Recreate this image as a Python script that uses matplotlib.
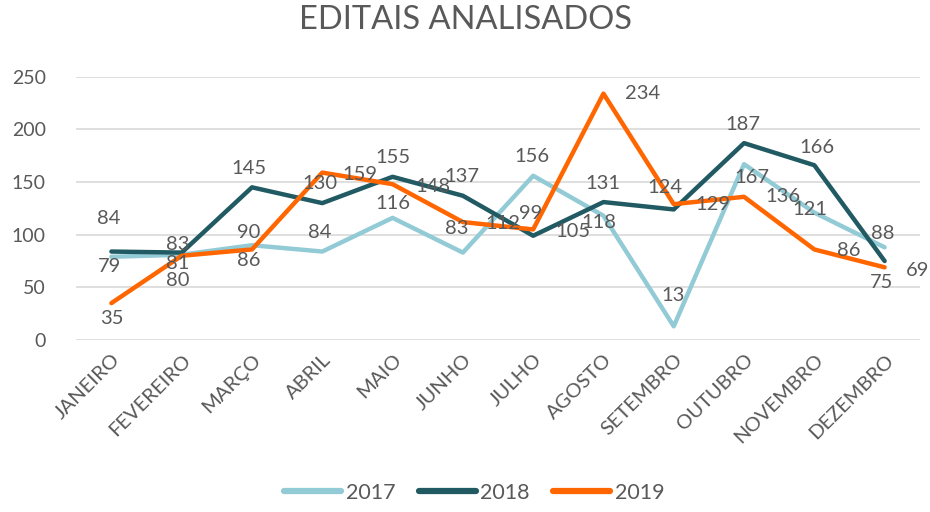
import matplotlib
matplotlib.use("Agg")
import matplotlib.pyplot as plt

plt.rcParams['font.family'] = ['Lato', 'DejaVu Sans']

# data
meses = ["JANEIRO", "FEVEREIRO", "MARÇO", "ABRIL", "MAIO", "JUNHO",
         "JULHO", "AGOSTO", "SETEMBRO", "OUTUBRO", "NOVEMBRO", "DEZEMBRO"]
v2017 = [79, 81, 90, 84, 116, 83, 156, 118, 13, 167, 121, 88]
v2018 = [84, 83, 145, 130, 155, 137, 99, 131, 124, 187, 166, 75]
v2019 = [35, 80, 86, 159, 148, 112, 105, 234, 129, 136, 86, 69]
anos = ["2017", "2018", "2019"]

cores = ["#92cbd6", "#215a62", "#ff6600"]
grey = "#595959"

# label offsets in pixels (dx, dy down) - Excel had them dragged around
off2017 = [(-2, 10), (-4, 9), (-3, -13), (-3, -19), (0, -14), (-6, -24),
           (-1, -19), (-5, 7), (-1, -31), (8, 13), (-4, -3), (-2, -14)]
off2018 = [(-3, -33), (-4, -8), (-3, -19), (-2, -20), (0, -19), (-1, -19),
           (-3, -22), (-1, -19), (-9, -22), (-1, -19), (3, -18), (-3, 21)]
off2019 = [(0, 15), (-4, 25), (-3, 11), (38, 2), (40, 2), (40, 1),
           (40, 2), (39, 0), (39, 0), (39, 0), (34, 1), (33, 3)]

fig = plt.figure(figsize=(9.3, 5.12), dpi=100)
ax = fig.add_axes([0.082, 0.336, 0.907, 0.514])

x = list(range(len(meses)))
series = [v2017, v2018, v2019]
offs = [off2017, off2018, off2019]
for vals, cor, ano in zip(series, cores, anos):
    ax.plot(x, vals, color=cor, lw=3.2, label=ano, solid_capstyle='round', zorder=3)

for vals, off in zip(series, offs):
    for i, v in enumerate(vals):
        dx, dy = off[i]
        ax.annotate(str(v), (i, v), xytext=(dx * 0.72, -dy * 0.72),
                    textcoords='offset points', ha='center', va='center',
                    fontsize=14.5, color=grey, zorder=4)

ax.set_xlim(-0.5, len(meses) - 0.5)
ax.set_ylim(0, 250)
ax.set_yticks([0, 50, 100, 150, 200, 250])
ax.grid(axis='y', color='#d9d9d9', lw=1.2)
ax.set_axisbelow(True)
for s in ax.spines.values():
    s.set_visible(False)
ax.tick_params(axis='both', length=0, labelsize=14.5, labelcolor=grey)
ax.tick_params(axis='y', labelsize=14, pad=22)
ax.set_xticks(x)
ax.set_xticklabels(meses, rotation=45, ha='right', va='top', rotation_mode='anchor')
ax.tick_params(axis='x', pad=8)

fig.suptitle("EDITAIS ANALISADOS", y=0.99, fontsize=23.5, color=grey)

leg = fig.legend(loc='lower center', bbox_to_anchor=(0.51, -0.02), ncol=3,
                 frameon=False, fontsize=15.5, handlelength=2.65, columnspacing=1.1,
                 handletextpad=0.2, labelcolor=grey)
for h in leg.get_lines():
    h.set_linewidth(4.5)

fig.savefig("out.png", dpi=100, facecolor='white')
